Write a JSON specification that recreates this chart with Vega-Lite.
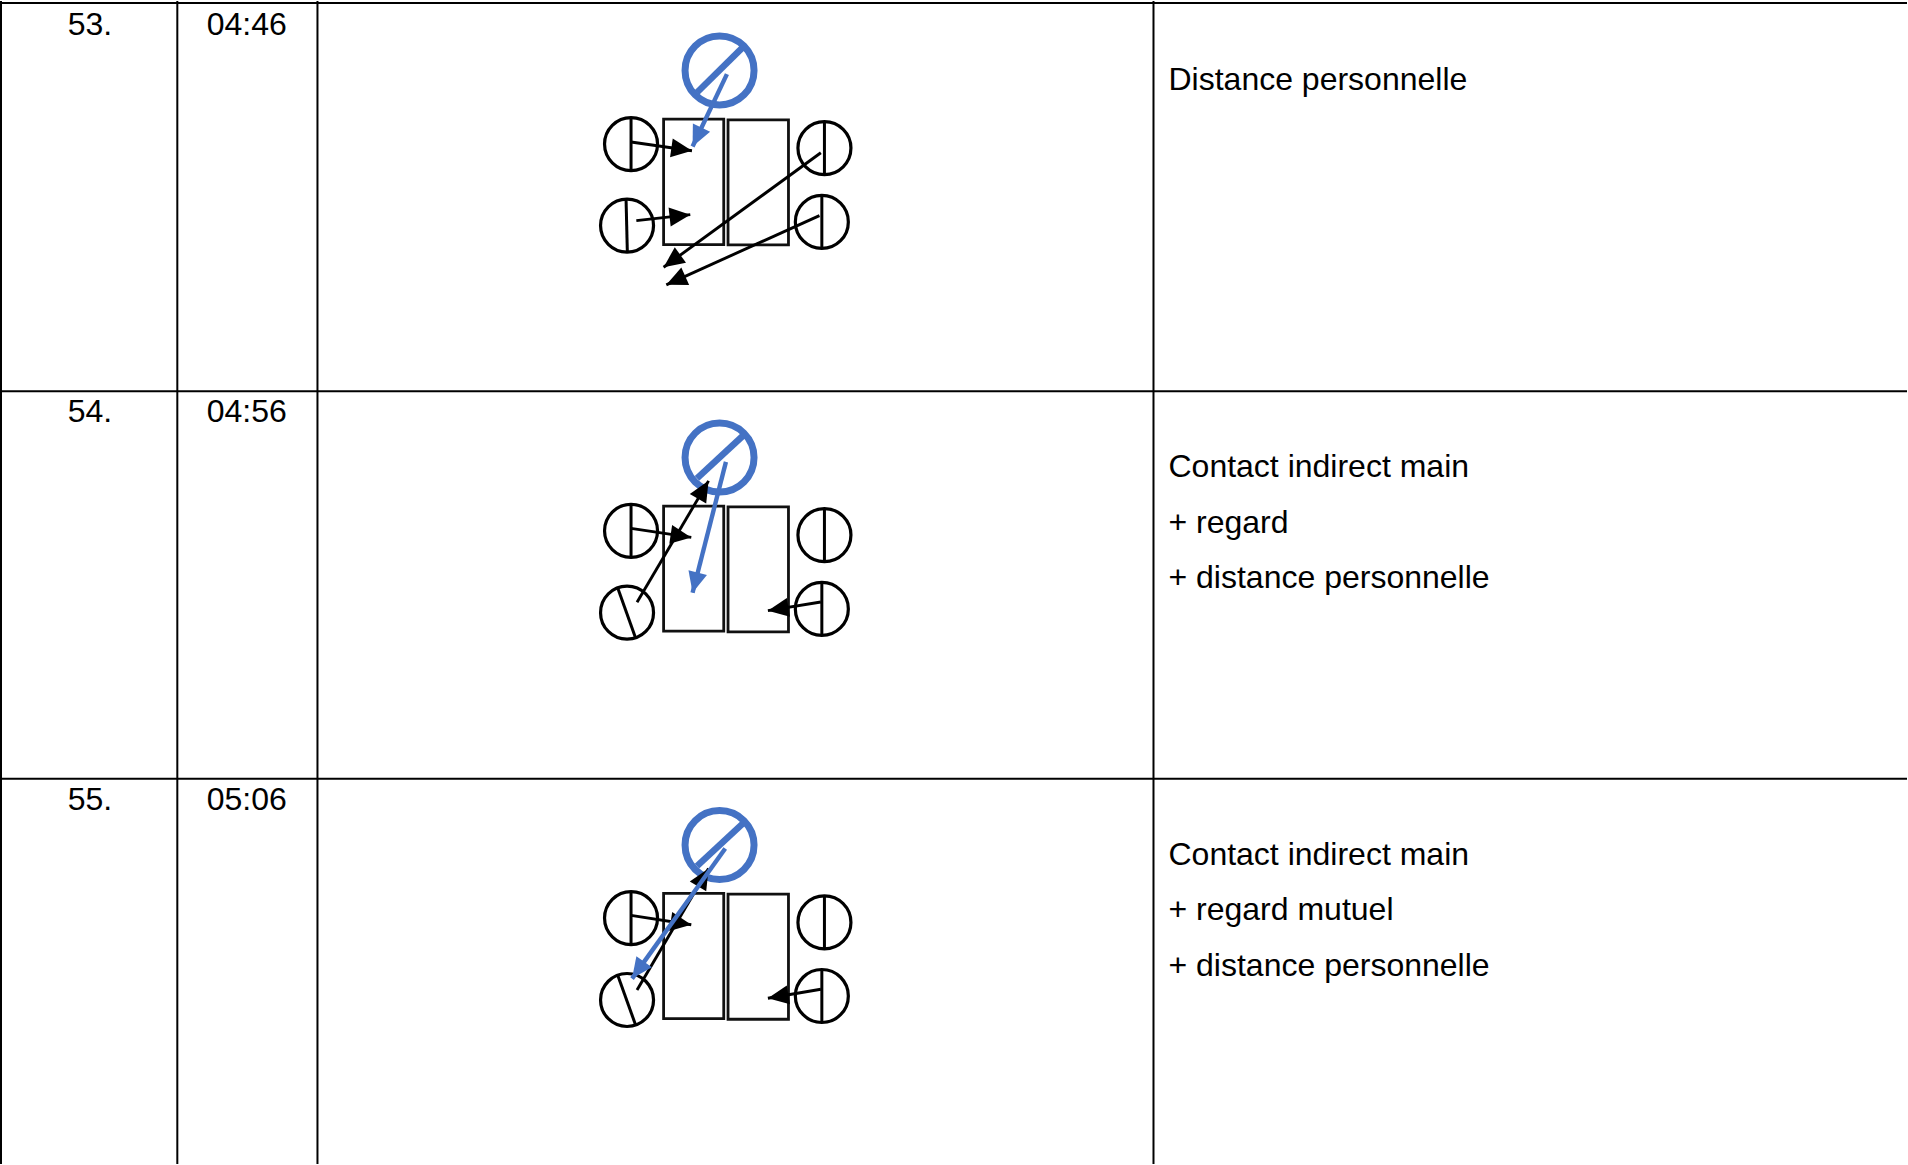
{
"$schema":"https://vega.github.io/schema/vega-lite/v6.json",
"width":1908,"height":1165,"padding":0,
"autosize":{"type":"fit","contains":"padding"},
"background":"#ffffff",
"config":{"view":{"stroke":null}},
"datasets":{
"grid":[
{"x":0,"y":0,"x2":0,"y2":1165},{"x":176.5,"y":0,"x2":176.5,"y2":1165},{"x":316.8,"y":0,"x2":316.8,"y2":1165},{"x":1153.7,"y":0,"x2":1153.7,"y2":1165},
{"x":0,"y":2,"x2":1908,"y2":2},{"x":0,"y":391,"x2":1908,"y2":391},{"x":0,"y":779,"x2":1908,"y2":779}],
"tables":[
{"x":663.3,"x2":723.5,"y":118.3,"y2":244},{"x":727.8,"x2":788.3,"y":119,"y2":244.3},
{"x":663.3,"x2":723.5,"y":506,"y2":631.3},{"x":727.8,"x2":788.3,"y":506.7,"y2":632},
{"x":663.3,"x2":723.5,"y":894,"y2":1019.3},{"x":727.8,"x2":788.3,"y":894.7,"y2":1020}],
"people":[
{"x":630.7,"y":143.3},{"x":626.7,"y":225},{"x":824.3,"y":147.3},{"x":821.7,"y":221.3},
{"x":630.7,"y":530.7},{"x":626.7,"y":612.7},{"x":824.3,"y":535},{"x":821.7,"y":609},
{"x":630.7,"y":918.7},{"x":626.7,"y":1000.7},{"x":824.3,"y":923},{"x":821.7,"y":996.7}],
"dividers":[
{"x":630.7,"y":116.7,"x2":630.7,"y2":169.3},{"x":625.7,"y":198.3,"x2":627,"y2":251.7},{"x":824.3,"y":120.7,"x2":824.3,"y2":174},{"x":821.7,"y":195,"x2":821.7,"y2":247.7},
{"x":630.7,"y":504,"x2":630.7,"y2":557.3},{"x":617.3,"y":587.7,"x2":635,"y2":637.3},{"x":824.3,"y":508.3,"x2":824.3,"y2":562.3},{"x":821.7,"y":582.3,"x2":821.7,"y2":635.7},
{"x":630.7,"y":892,"x2":630.7,"y2":945.3},{"x":617.3,"y":975.7,"x2":635,"y2":1025},{"x":824.3,"y":896.3,"x2":824.3,"y2":950},{"x":821.7,"y":970.3,"x2":821.7,"y2":1023.7}],
"leader":[{"x":719.3,"y":69.5},{"x":719.3,"y":457.3},{"x":719.3,"y":845.5}],
"leaderBars":[
{"x":696.7,"y":91.7,"x2":742,"y2":47},{"x":696.7,"y":478.3,"x2":743.3,"y2":435},{"x":696.7,"y":866.7,"x2":743.3,"y2":823.3}],
"gazeBlack":[
{"x":630.7,"y":141.3,"x2":691.7,"y2":150,"heading":98.1},
{"x":636,"y":220,"x2":690,"y2":214,"heading":83.7},
{"x":820.7,"y":152,"x2":663.3,"y2":266.7,"heading":233.9},
{"x":819.3,"y":215,"x2":666,"y2":284.3,"heading":245.7},
{"x":630.7,"y":528.3,"x2":691,"y2":537.3,"heading":98.5},
{"x":636.7,"y":602.3,"x2":708.3,"y2":480.7,"heading":30.5},
{"x":820.7,"y":602,"x2":767.7,"y2":610.7,"heading":260.7},
{"x":630.7,"y":916,"x2":691,"y2":925.3,"heading":98.8},
{"x":636.7,"y":990.7,"x2":708.3,"y2":869,"heading":30.5},
{"x":820.7,"y":990,"x2":767.7,"y2":999,"heading":260.4}],
"gazeBlue":[
{"x":726.7,"y":73.3,"x2":692.3,"y2":145.7,"heading":205.4},
{"x":725.7,"y":461.7,"x2":692.3,"y2":592.7,"heading":194.3},
{"x":725,"y":849,"x2":631.7,"y2":979.3,"heading":215.6}],
"index":[
{"x":89,"y":34,"label":"53."},{"x":246,"y":34,"label":"04:46"},
{"x":89,"y":422,"label":"54."},{"x":246,"y":422,"label":"04:56"},
{"x":89,"y":810.5,"label":"55."},{"x":246,"y":810.5,"label":"05:06"}],
"notes":[
{"x":1168.7,"y":89.2,"label":"Distance personnelle"},
{"x":1168.7,"y":477,"label":"Contact indirect main"},
{"x":1168.7,"y":533,"label":"+ regard"},
{"x":1168.7,"y":588,"label":"+ distance personnelle"},
{"x":1168.7,"y":865,"label":"Contact indirect main"},
{"x":1168.7,"y":920.5,"label":"+ regard mutuel"},
{"x":1168.7,"y":977,"label":"+ distance personnelle"}]
},
"encoding":{
"x":{"field":"x","type":"quantitative","axis":null,"scale":{"domain":[0,1908],"nice":false,"zero":false}},
"y":{"field":"y","type":"quantitative","axis":null,"scale":{"domain":[0,1165],"reverse":true,"nice":false,"zero":false}}
},
"layer":[
{"data":{"name":"grid"},"mark":{"type":"rule","stroke":"#000000","strokeWidth":2},"encoding":{"x2":{"field":"x2"},"y2":{"field":"y2"}}},
{"data":{"name":"tables"},"mark":{"type":"rect","fillOpacity":0,"stroke":"#111111","strokeWidth":2.8},"encoding":{"x2":{"field":"x2"},"y2":{"field":"y2"}}},
{"data":{"name":"people"},"mark":{"type":"point","shape":"circle","filled":false,"size":2809,"stroke":"#000000","strokeWidth":3.2,"opacity":1}},
{"data":{"name":"dividers"},"mark":{"type":"rule","stroke":"#000000","strokeWidth":3},"encoding":{"x2":{"field":"x2"},"y2":{"field":"y2"}}},
{"data":{"name":"leader"},"mark":{"type":"point","shape":"circle","filled":false,"size":4761,"stroke":"#4472C4","strokeWidth":7,"opacity":1}},
{"data":{"name":"leaderBars"},"mark":{"type":"rule","stroke":"#4472C4","strokeWidth":6.5},"encoding":{"x2":{"field":"x2"},"y2":{"field":"y2"}}},
{"data":{"name":"gazeBlack"},"mark":{"type":"rule","stroke":"#000000","strokeWidth":2.9},"encoding":{"x2":{"field":"x2"},"y2":{"field":"y2"}}},
{"data":{"name":"gazeBlack"},"mark":{"type":"point","shape":"M0,0L-1.1,2.4L1.1,2.4Z","filled":true,"size":300,"fill":"#000000","stroke":null,"opacity":1},"encoding":{"x":{"field":"x2","type":"quantitative"},"y":{"field":"y2","type":"quantitative"},"angle":{"field":"heading","type":"quantitative","scale":null}}},
{"data":{"name":"gazeBlue"},"mark":{"type":"rule","stroke":"#4472C4","strokeWidth":4.4},"encoding":{"x2":{"field":"x2"},"y2":{"field":"y2"}}},
{"data":{"name":"gazeBlue"},"mark":{"type":"point","shape":"M0,0L-1.1,2.4L1.1,2.4Z","filled":true,"size":300,"fill":"#4472C4","stroke":null,"opacity":1},"encoding":{"x":{"field":"x2","type":"quantitative"},"y":{"field":"y2","type":"quantitative"},"angle":{"field":"heading","type":"quantitative","scale":null}}},
{"data":{"name":"index"},"mark":{"type":"text","align":"center","baseline":"alphabetic","font":"Liberation Sans","fontSize":32,"fill":"#000000"},"encoding":{"text":{"field":"label"}}},
{"data":{"name":"notes"},"mark":{"type":"text","align":"left","baseline":"alphabetic","font":"Liberation Sans","fontSize":32,"fill":"#000000"},"encoding":{"text":{"field":"label"}}}
]
}
